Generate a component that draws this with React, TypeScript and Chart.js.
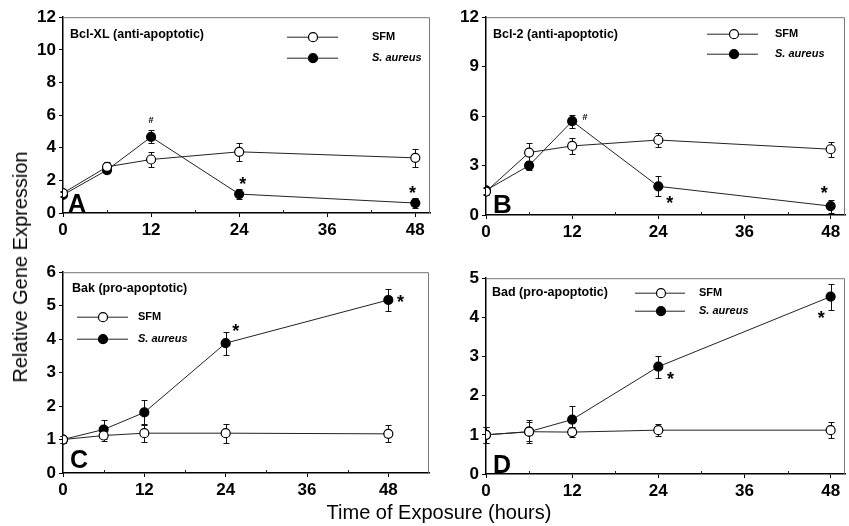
import React, { useEffect, useRef } from 'react';
import { Chart, registerables } from 'chart.js';

Chart.register(...registerables);

const FONT = '"Liberation Sans", Arial, Helvetica, sans-serif';

// Shared x categories (hours)
const HOURS = [0, 6, 12, 24, 48];
const X_TICKS = [0, 12, 24, 36, 48];
const X_MINOR = [6, 18, 30, 42];

// Panel A: Bcl-XL
const A_SFM = [1.22, 2.83, 3.28, 3.75, 3.38];
const A_SFM_ERR = [0.15, 0.3, 0.46, 0.57, 0.57];
const A_SA = [1.11, 2.63, 4.66, 1.16, 0.61];
const A_SA_ERR = [0.15, 0.2, 0.4, 0.3, 0.28];
const A_Y_TICKS = [0, 2, 4, 6, 8, 10, 12];
const A_MARKS = [
  { x: 12, y: 5.75, t: '#' },
  { x: 24.5, y: 2.05, t: '*' },
  { x: 47.6, y: 1.5, t: '*' },
];

// Panel B: Bcl-2
const B_SFM = [1.42, 3.79, 4.19, 4.55, 3.99];
const B_SFM_ERR = [0.2, 0.6, 0.46, 0.4, 0.45];
const B_SA = [1.5, 3.0, 5.69, 1.74, 0.54];
const B_SA_ERR = [0.2, 0.25, 0.4, 0.6, 0.4];
const B_Y_TICKS = [0, 3, 6, 9, 12];
const B_MARKS = [
  { x: 13.8, y: 6.0, t: '#' },
  { x: 25.6, y: 0.95, t: '*' },
  { x: 47.1, y: 1.6, t: '*' },
];

// Panel C: Bak
const C_SFM = [1.0, 1.12, 1.19, 1.19, 1.17];
const C_SFM_ERR = [0.1, 0.15, 0.25, 0.28, 0.25];
const C_SA = [1.0, 1.3, 1.81, 3.88, 5.17];
const C_SA_ERR = [0.1, 0.28, 0.36, 0.34, 0.32];
const C_Y_TICKS = [0, 1, 2, 3, 4, 5, 6];
const C_MARKS = [
  { x: 25.5, y: 4.35, t: '*' },
  { x: 49.8, y: 5.24, t: '*' },
];

// Panel D: Bad
const D_SFM = [1.0, 1.08, 1.07, 1.12, 1.12];
const D_SFM_ERR = [0.2, 0.25, 0.12, 0.15, 0.2];
const D_SA = [1.0, 1.08, 1.39, 2.74, 4.53];
const D_SA_ERR = [0.2, 0.3, 0.34, 0.28, 0.33];
const D_Y_TICKS = [0, 1, 2, 3, 4, 5];
const D_MARKS = [
  { x: 25.7, y: 2.54, t: '*' },
  { x: 46.7, y: 4.09, t: '*' },
];

const SERIES_NAMES = ['SFM', 'S. aureus'];

type Mark = { x: number; y: number; t: string };
type PanelCfg = {
  letter: string;
  title: string;
  left: number; top: number; right: number; bottom: number;
  xMax: number; yMax: number; yTicks: number[];
  sfm: number[]; sfmErr: number[]; sa: number[]; saErr: number[];
  marks: Mark[];
  legend: { x1: number; x2: number; xm: number; xt: number; y1: number; y2: number };
  titlePos: { x: number; y: number };
  letterPos: { x: number; y: number; size: number };
};

const PANELS: PanelCfg[] = [
  {
    letter: 'A', title: 'Bcl-XL (anti-apoptotic)',
    left: 63, top: 16, right: 430, bottom: 213,
    xMax: 50, yMax: 12, yTicks: A_Y_TICKS,
    sfm: A_SFM, sfmErr: A_SFM_ERR, sa: A_SA, saErr: A_SA_ERR, marks: A_MARKS,
    legend: { x1: 224, x2: 275, xm: 250, xt: 309, y1: 20, y2: 41 },
    titlePos: { x: 7, y: 17 },
    letterPos: { x: 5, y: -1, size: 25 },
  },
  {
    letter: 'B', title: 'Bcl-2 (anti-apoptotic)',
    left: 486, top: 16, right: 845, bottom: 215,
    xMax: 50, yMax: 12, yTicks: B_Y_TICKS,
    sfm: B_SFM, sfmErr: B_SFM_ERR, sa: B_SA, saErr: B_SA_ERR, marks: B_MARKS,
    legend: { x1: 221, x2: 272, xm: 248, xt: 289, y1: 17, y2: 37 },
    titlePos: { x: 7, y: 17 },
    letterPos: { x: 7, y: -2, size: 26 },
  },
  {
    letter: 'C', title: 'Bak (pro-apoptotic)',
    left: 63, top: 271, right: 429, bottom: 473,
    xMax: 54, yMax: 6, yTicks: C_Y_TICKS,
    sfm: C_SFM, sfmErr: C_SFM_ERR, sa: C_SA, saErr: C_SA_ERR, marks: C_MARKS,
    legend: { x1: 14, x2: 65, xm: 40, xt: 75, y1: 45, y2: 67 },
    titlePos: { x: 9, y: 16 },
    letterPos: { x: 7, y: -5, size: 25 },
  },
  {
    letter: 'D', title: 'Bad (pro-apoptotic)',
    left: 486, top: 277, right: 845, bottom: 474,
    xMax: 50, yMax: 5, yTicks: D_Y_TICKS,
    sfm: D_SFM, sfmErr: D_SFM_ERR, sa: D_SA, saErr: D_SA_ERR, marks: D_MARKS,
    legend: { x1: 149, x2: 199, xm: 175, xt: 213, y1: 15, y2: 33 },
    titlePos: { x: 6, y: 14 },
    letterPos: { x: 7, y: -1, size: 25 },
  },
];

const PAD_LEFT = 45;
const PAD_TOP = 12;
const PAD_RIGHT = 8;
const PAD_BOTTOM = 32;

const errorBarPlugin = {
  id: 'errorBars',
  beforeDatasetsDraw(chart: any) {
    const ctx = chart.ctx;
    const yS = chart.scales.y;
    ctx.save();
    ctx.strokeStyle = '#111';
    ctx.lineWidth = 1;
    chart.data.datasets.forEach((ds: any, i: number) => {
      const meta = chart.getDatasetMeta(i);
      meta.data.forEach((pt: any, j: number) => {
        const v = ds.data[j].y;
        const e = ds.errors[j];
        const yt = Math.round(yS.getPixelForValue(v + e)) + 0.5;
        const yb = Math.round(yS.getPixelForValue(v - e)) + 0.5;
        const x = Math.round(pt.x) + 0.5;
        ctx.beginPath();
        ctx.moveTo(x, yt); ctx.lineTo(x, yb);
        ctx.moveTo(x - 3, yt); ctx.lineTo(x + 3, yt);
        ctx.moveTo(x - 3, yb); ctx.lineTo(x + 3, yb);
        ctx.stroke();
      });
    });
    ctx.restore();
  },
};

const decorPlugin = {
  id: 'panelDecor',
  beforeDatasetsDraw(chart: any) {
    const { ctx, chartArea: ca } = chart;
    const xS = chart.scales.x;
    ctx.save();
    // grey frame top & right
    ctx.strokeStyle = '#777';
    ctx.lineWidth = 1;
    ctx.beginPath();
    ctx.moveTo(ca.left, ca.top + 0.5);
    ctx.lineTo(ca.right - 0.5, ca.top + 0.5);
    ctx.lineTo(ca.right - 0.5, ca.bottom);
    ctx.stroke();
    // minor x ticks (inward)
    ctx.strokeStyle = '#222';
    ctx.beginPath();
    X_MINOR.forEach((h) => {
      const x = Math.round(xS.getPixelForValue(h)) + 0.5;
      ctx.moveTo(x, ca.bottom);
      ctx.lineTo(x, ca.bottom - 3);
    });
    ctx.stroke();
    ctx.restore();
  },
  afterDatasetsDraw(chart: any, _a: any, opts: any) {
    const { ctx, chartArea: ca } = chart;
    const xS = chart.scales.x;
    const yS = chart.scales.y;
    const p: PanelCfg = opts.panel;
    ctx.save();
    ctx.fillStyle = '#000';
    // title
    ctx.font = `bold 12.5px ${FONT}`;
    ctx.textAlign = 'left';
    ctx.textBaseline = 'middle';
    ctx.fillText(p.title, ca.left + p.titlePos.x, ca.top + p.titlePos.y);
    // panel letter
    ctx.font = `bold ${p.letterPos.size}px ${FONT}`;
    ctx.textBaseline = 'alphabetic';
    ctx.fillText(p.letter, ca.left + p.letterPos.x, ca.bottom + p.letterPos.y);
    // legend
    const L = p.legend;
    const rows = [
      { y: L.y1, fill: '#fff', name: SERIES_NAMES[0], italic: false },
      { y: L.y2, fill: '#000', name: SERIES_NAMES[1], italic: true },
    ];
    rows.forEach((r) => {
      const yy = ca.top + r.y;
      ctx.strokeStyle = '#222';
      ctx.lineWidth = 1;
      ctx.beginPath();
      ctx.moveTo(ca.left + L.x1, yy);
      ctx.lineTo(ca.left + L.x2, yy);
      ctx.stroke();
      ctx.beginPath();
      ctx.arc(ca.left + L.xm, yy, 4.5, 0, Math.PI * 2);
      ctx.fillStyle = r.fill;
      ctx.fill();
      ctx.strokeStyle = '#000';
      ctx.lineWidth = 1.2;
      ctx.stroke();
      ctx.fillStyle = '#000';
      ctx.font = `${r.italic ? 'italic ' : ''}bold 11px ${FONT}`;
      ctx.textBaseline = 'middle';
      ctx.fillText(r.name, ca.left + L.xt, yy);
    });
    // significance marks
    p.marks.forEach((m) => {
      const x = xS.getPixelForValue(m.x);
      const y = yS.getPixelForValue(m.y);
      ctx.textAlign = 'center';
      ctx.textBaseline = 'alphabetic';
      if (m.t === '#') {
        ctx.font = `bold 9px ${FONT}`;
        ctx.fillText('#', x, y + 3.5);
      } else {
        ctx.font = `bold 18px ${FONT}`;
        ctx.fillText('*', x, y + 10);
      }
    });
    ctx.restore();
  },
};

function makeDataset(label: string, xs: number[], ys: number[], errs: number[], filled: boolean) {
  return {
    label,
    data: xs.map((h, i) => ({ x: h, y: ys[i] })),
    errors: errs,
    borderColor: '#222',
    borderWidth: 1,
    pointRadius: 4.5,
    pointBorderWidth: 1.2,
    pointBorderColor: '#000',
    pointBackgroundColor: filled ? '#000' : '#fff',
    showLine: true,
    fill: false,
    tension: 0,
  };
}

function PanelChart({ p }: { p: PanelCfg }) {
  const ref = useRef<HTMLCanvasElement>(null);
  const w = p.right - p.left + PAD_LEFT + PAD_RIGHT;
  const h = p.bottom - p.top + PAD_TOP + PAD_BOTTOM;
  useEffect(() => {
    if (!ref.current) return;
    const chart = new Chart(ref.current, {
      type: 'line',
      data: {
        datasets: [
          makeDataset(SERIES_NAMES[0], HOURS, p.sfm, p.sfmErr, false),
          makeDataset(SERIES_NAMES[1], HOURS, p.sa, p.saErr, true),
        ] as any,
      },
      options: {
        animation: false,
        responsive: false,
        devicePixelRatio: 1,
        layout: { padding: { left: 0, top: PAD_TOP, right: PAD_RIGHT, bottom: 0 } },
        plugins: {
          legend: { display: false },
          tooltip: { enabled: false },
          panelDecor: { panel: p },
        } as any,
        scales: {
          x: {
            type: 'linear',
            min: 0,
            max: p.xMax,
            afterBuildTicks: (s: any) => { s.ticks = X_TICKS.map((v) => ({ value: v })); },
            afterFit: (s: any) => { s.height = PAD_BOTTOM; },
            ticks: { color: '#000', font: { family: FONT, size: 17, weight: 'bold' }, padding: 3, maxRotation: 0 },
            grid: { drawOnChartArea: false, drawTicks: true, tickLength: 4, color: '#000', lineWidth: 1 },
            border: { display: true, color: '#000', width: 1.5 },
          },
          y: {
            type: 'linear',
            min: 0,
            max: p.yMax,
            afterBuildTicks: (s: any) => { s.ticks = p.yTicks.map((v) => ({ value: v })); },
            afterFit: (s: any) => { s.width = PAD_LEFT; },
            ticks: { color: '#000', font: { family: FONT, size: 17, weight: 'bold' }, padding: 3 },
            grid: { drawOnChartArea: false, drawTicks: true, tickLength: 4, color: '#000', lineWidth: 1 },
            border: { display: true, color: '#000', width: 1.5 },
          },
        },
      } as any,
      plugins: [errorBarPlugin, decorPlugin],
    });
    return () => chart.destroy();
  }, []);
  return (
    <canvas
      ref={ref}
      width={w}
      height={h}
      style={{ position: 'absolute', left: p.left - PAD_LEFT, top: p.top - PAD_TOP, width: w, height: h }}
    />
  );
}

export default function App() {
  return (
    <div style={{ position: 'absolute', left: 0, top: 0, width: 849, height: 526, background: '#fff', overflow: 'hidden' }}>
      {PANELS.map((p) => (
        <PanelChart key={p.letter} p={p} />
      ))}
      <div
        style={{
          position: 'absolute', left: 20, top: 267, transform: 'translate(-50%, -50%) rotate(-90deg)',
          whiteSpace: 'nowrap', fontFamily: FONT, fontSize: 20, color: '#000', lineHeight: 1,
        }}
      >
        Relative Gene Expression
      </div>
      <div
        style={{
          position: 'absolute', left: 439, top: 512, transform: 'translate(-50%, -50%)',
          whiteSpace: 'nowrap', fontFamily: FONT, fontSize: 20, color: '#000', lineHeight: 1,
        }}
      >
        Time of Exposure (hours)
      </div>
    </div>
  );
}
